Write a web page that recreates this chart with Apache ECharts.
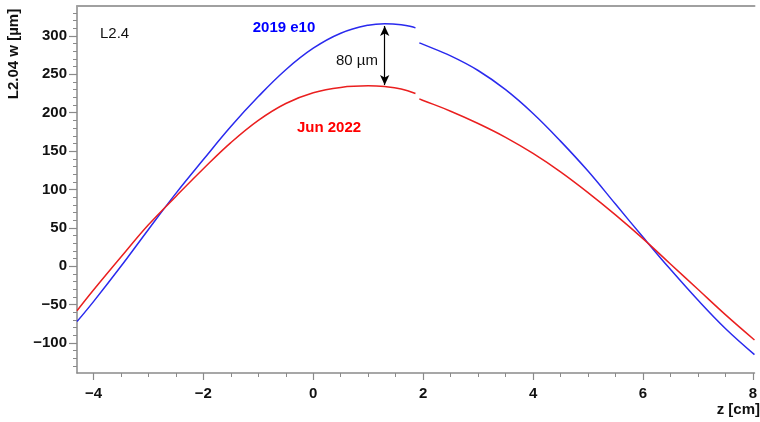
<!DOCTYPE html>
<html>
<head>
<meta charset="utf-8">
<script src="https://cdn.jsdelivr.net/npm/echarts@6/dist/echarts.min.js"></script>
<style>html,body{margin:0;padding:0;background:#fff}#c{width:760px;height:422px}</style>
</head>
<body>
<div id="c"></div>
<script>
// ---- data ----
const zLeft     = [-4.3, -4.0, -3.5, -3.0, -2.5, -2.0, -1.5, -1.0, -0.5, 0.0, 0.5, 1.0, 1.3, 1.6, 1.86];
const blueLeft  = [-72, -46, 0, 48, 95, 139, 182, 221, 256, 284, 303.5, 314, 316, 314.5, 310.5];
const redLeft   = [-58, -31, 12, 54, 91, 127, 161, 190, 212, 226, 233, 235, 234, 231, 225];
const zRight    = [1.93, 2.0, 2.5, 3.0, 3.5, 4.0, 4.5, 5.0, 5.5, 6.0, 6.5, 7.0, 7.5, 8.03];
const blueRight = [291, 289, 274, 255, 230, 199, 163, 124, 81, 38, -4, -44, -81, -115];
const redRight  = [218, 216, 202, 186, 168, 147, 123, 96, 67, 36, 3, -30, -63, -96];
const xMajor = [-4, -2, 0, 2, 4, 6, 8];
const xMinor = [-3.5, -3, -2.5, -1.5, -1, -0.5, 0.5, 1, 1.5, 2.5, 3, 3.5, 4.5, 5, 5.5, 6.5, 7, 7.5];
const yMajor = [-100, -50, 0, 50, 100, 150, 200, 250, 300];
const yMinor = [-130, -120, -110, -90, -80, -70, -60, -40, -30, -20, -10, 10, 20, 30, 40, 60, 70, 80, 90,
                110, 120, 130, 140, 160, 170, 180, 190, 210, 220, 230, 240, 260, 270, 280, 290, 310, 320, 330];
const arrowZ = 1.3, arrowTop = 313, arrowBottom = 236;
const seriesNames = ['2019 e10', 'Jun 2022'];

const pairs = (xs, ys) => xs.map((x, i) => [x, ys[i]]);
const FONT = "'Liberation Sans', Arial, Helvetica, sans-serif";
const minus = v => (v < 0 ? '\u2212' + Math.abs(v) : String(v));
const AX = '#8a8a8a';

const chart = echarts.init(document.getElementById('c'), null, {renderer: 'canvas'});
const lineBase = (color) => ({
  type: 'line', showSymbol: false, symbol: 'none', smooth: 0.4, animation: false,
  lineStyle: {color: color, width: 1.5}, xAxisIndex: 0, yAxisIndex: 0, z: 5
});

chart.setOption({
  animation: false,
  backgroundColor: '#fff',
  grid: {left: 77, right: 0, top: 6, bottom: 49, containLabel: false},
  xAxis: [
    {type: 'value', min: -4.3, max: 8.03, position: 'bottom',
     axisLine: {show: true, onZero: false, lineStyle: {color: AX, width: 1.5}},
     axisTick: {show: true, customValues: xMajor, length: 7, lineStyle: {color: AX, width: 1.2}},
     axisLabel: {show: true, customValues: xMajor, formatter: minus, margin: 13,
                 fontFamily: FONT, fontWeight: 'bold', fontSize: 15, color: '#111'},
     splitLine: {show: false}},
    {type: 'value', min: -4.3, max: 8.03, position: 'bottom',
     axisLine: {show: false, onZero: false},
     axisTick: {show: true, customValues: xMinor, length: 4, lineStyle: {color: AX, width: 1}},
     axisLabel: {show: false}, splitLine: {show: false}},
    {type: 'value', min: -4.3, max: 8.03, position: 'top',
     axisLine: {show: true, onZero: false, lineStyle: {color: '#a0a0a0', width: 2}},
     axisTick: {show: false}, axisLabel: {show: false}, splitLine: {show: false}}
  ],
  yAxis: [
    {type: 'value', min: -139, max: 339, position: 'left',
     axisLine: {show: true, onZero: false, lineStyle: {color: AX, width: 1.5}},
     axisTick: {show: true, customValues: yMajor, length: 8, lineStyle: {color: AX, width: 1.2}},
     axisLabel: {show: true, customValues: yMajor, formatter: minus, margin: 10,
                 fontFamily: FONT, fontWeight: 'bold', fontSize: 15, color: '#111'},
     splitLine: {show: false}},
    {type: 'value', min: -139, max: 339, position: 'left',
     axisLine: {show: false, onZero: false},
     axisTick: {show: true, customValues: yMinor, length: 4, lineStyle: {color: AX, width: 1}},
     axisLabel: {show: false}, splitLine: {show: false}}
  ],
  series: [
    Object.assign(lineBase('#2a2aee'), {name: seriesNames[0], data: pairs(zLeft, blueLeft),
      markLine: {
        silent: true, symbol: ['arrow', 'arrow'], symbolSize: [7, 10], animation: false,
        label: {show: false},
        lineStyle: {color: '#000', width: 1.2, type: 'solid'},
        data: [[{coord: [arrowZ, arrowTop]}, {coord: [arrowZ, arrowBottom]}]]
      }}),
    Object.assign(lineBase('#2a2aee'), {name: seriesNames[0] + ' ', data: pairs(zRight, blueRight)}),
    Object.assign(lineBase('#ea1f1f'), {name: seriesNames[1], data: pairs(zLeft, redLeft)}),
    Object.assign(lineBase('#ea1f1f'), {name: seriesNames[1] + ' ', data: pairs(zRight, redRight)})
  ],
  graphic: [
    {type: 'text', x: 100, y: 34, style: {text: 'L2.4', fill: '#111', font: '15px ' + FONT,
      textAlign: 'left', textVerticalAlign: 'middle'}},
    {type: 'text', x: 284, y: 28, style: {text: seriesNames[0], fill: '#0000ff', font: 'bold 15px ' + FONT,
      textAlign: 'center', textVerticalAlign: 'middle'}},
    {type: 'text', x: 329, y: 128, style: {text: seriesNames[1], fill: '#ff0000', font: 'bold 15px ' + FONT,
      textAlign: 'center', textVerticalAlign: 'middle'}},
    {type: 'text', x: 357, y: 61, style: {text: '80 µm', fill: '#111', font: '15px ' + FONT,
      textAlign: 'center', textVerticalAlign: 'middle'}},
    {type: 'text', x: 14, y: 54, rotation: Math.PI / 2, style: {text: 'L2.04 w [µm]', fill: '#111',
      font: 'bold 15px ' + FONT, textAlign: 'center', textVerticalAlign: 'middle'}},
    {type: 'text', x: 760, y: 410, style: {text: 'z [cm]', fill: '#111', font: 'bold 15px ' + FONT,
      textAlign: 'right', textVerticalAlign: 'middle'}}
  ]
});
</script>
</body>
</html>
